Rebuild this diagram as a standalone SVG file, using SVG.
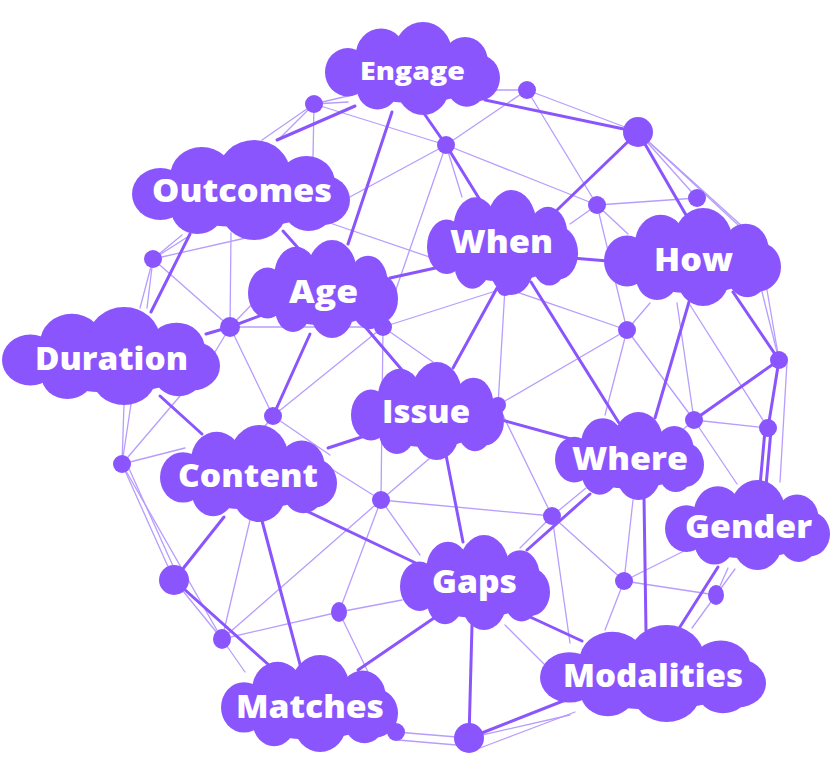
<svg xmlns="http://www.w3.org/2000/svg" xmlns:xlink="http://www.w3.org/1999/xlink" width="832" height="762" viewBox="0 0 832 762">
<style>
.c{fill:#8b55fe}
.t{stroke:#b79dfe;stroke-width:1.3;stroke-linecap:round}
.k{stroke:#8b55fe;stroke-width:3;stroke-linecap:round}
.lb{font-family:"Open Sans","Liberation Sans",sans-serif;font-weight:800;fill:#fff;font-size:32px}
</style>
<defs>
<symbol id="cloud" viewBox="0 0 200 100" preserveAspectRatio="none">
<g class="c">
<ellipse cx="100" cy="54" rx="86" ry="33"/>
<circle cx="26" cy="54" r="26"/>
<circle cx="64" cy="36" r="29"/>
<circle cx="112" cy="33" r="33"/>
<circle cx="160" cy="42" r="26"/>
<circle cx="175" cy="60" r="25"/>
<circle cx="60" cy="70" r="24"/>
<circle cx="112" cy="70" r="30"/>
<circle cx="162" cy="68" r="23"/>
</g>
</symbol>
</defs>
<rect width="832" height="762" fill="#fff"/>
<g id="connectors">
<g class="t">
<line x1="314" y1="104" x2="352" y2="95"/><line x1="314" y1="104" x2="348" y2="102"/>
<line x1="314" y1="104" x2="262" y2="140"/><line x1="314" y1="104" x2="278" y2="140"/>
<line x1="314" y1="104" x2="313" y2="157"/><line x1="314" y1="104" x2="446" y2="145"/>
<line x1="495" y1="90" x2="527" y2="90"/><line x1="527" y1="90" x2="446" y2="145"/>
<line x1="527" y1="90" x2="638" y2="132"/><line x1="527" y1="90" x2="597" y2="205"/>
<line x1="638" y1="132" x2="697" y2="198"/><line x1="638" y1="132" x2="743" y2="227"/>
<line x1="638" y1="132" x2="750" y2="236"/>
<line x1="597" y1="205" x2="697" y2="198"/><line x1="597" y1="205" x2="570" y2="224"/>
<line x1="597" y1="205" x2="628" y2="234"/><line x1="597" y1="205" x2="627" y2="330"/>
<line x1="446" y1="145" x2="597" y2="205"/><line x1="446" y1="145" x2="462" y2="197"/>
<line x1="446" y1="145" x2="348" y2="198"/><line x1="446" y1="145" x2="383" y2="327"/>
<line x1="327" y1="222" x2="447" y2="263"/>
<line x1="153" y1="259" x2="182" y2="235"/><line x1="153" y1="259" x2="189" y2="236"/>
<line x1="153" y1="259" x2="250" y2="237"/><line x1="153" y1="259" x2="140" y2="308"/>
<line x1="153" y1="259" x2="147" y2="308"/><line x1="153" y1="259" x2="230" y2="327"/>
<line x1="230" y1="327" x2="231" y2="233"/><line x1="230" y1="327" x2="383" y2="327"/>
<line x1="230" y1="327" x2="273" y2="416"/><line x1="230" y1="327" x2="212" y2="357"/>
<line x1="230" y1="327" x2="256" y2="300"/>
<line x1="383" y1="327" x2="273" y2="416"/><line x1="383" y1="327" x2="381" y2="500"/>
<line x1="383" y1="327" x2="505" y2="288"/><line x1="383" y1="327" x2="433" y2="362"/>
<line x1="505" y1="288" x2="498" y2="405"/><line x1="505" y1="288" x2="627" y2="330"/>
<line x1="498" y1="405" x2="627" y2="330"/><line x1="498" y1="405" x2="552" y2="516"/>
<line x1="627" y1="330" x2="605" y2="415"/><line x1="627" y1="330" x2="694" y2="420"/>
<line x1="627" y1="330" x2="650" y2="303"/>
<line x1="381" y1="500" x2="552" y2="516"/><line x1="381" y1="500" x2="330" y2="468"/>
<line x1="381" y1="500" x2="430" y2="458"/><line x1="381" y1="500" x2="420" y2="555"/>
<line x1="381" y1="500" x2="339" y2="612"/><line x1="381" y1="500" x2="222" y2="639"/>
<line x1="339" y1="612" x2="222" y2="639"/><line x1="339" y1="612" x2="402" y2="600"/>
<line x1="339" y1="612" x2="368" y2="672"/>
<line x1="222" y1="639" x2="250" y2="520"/><line x1="222" y1="639" x2="245" y2="672"/>
<line x1="174" y1="580" x2="222" y2="639"/>
<line x1="122" y1="464" x2="174" y2="580"/><line x1="126" y1="462" x2="178" y2="577"/>
<line x1="122" y1="464" x2="222" y2="639"/><line x1="122" y1="464" x2="185" y2="448"/>
<line x1="122" y1="464" x2="124" y2="404"/><line x1="122" y1="464" x2="131" y2="404"/>
<line x1="122" y1="464" x2="180" y2="396"/>
<line x1="273" y1="416" x2="262" y2="430"/><line x1="273" y1="416" x2="330" y2="455"/>
<line x1="552" y1="516" x2="520" y2="548"/><line x1="552" y1="516" x2="586" y2="488"/>
<line x1="552" y1="516" x2="624" y2="581"/><line x1="552" y1="516" x2="570" y2="643"/>
<line x1="624" y1="581" x2="633" y2="500"/><line x1="624" y1="581" x2="690" y2="548"/>
<line x1="624" y1="581" x2="716" y2="595"/><line x1="624" y1="581" x2="605" y2="630"/>
<line x1="716" y1="595" x2="728" y2="568"/><line x1="716" y1="595" x2="735" y2="569"/>
<line x1="716" y1="595" x2="692" y2="628"/>
<line x1="694" y1="420" x2="737" y2="484"/><line x1="694" y1="420" x2="768" y2="428"/>
<line x1="694" y1="420" x2="680" y2="432"/><line x1="694" y1="420" x2="677" y2="303"/>
<line x1="690" y1="305" x2="768" y2="428"/><line x1="767" y1="290" x2="779" y2="360"/>
<line x1="787" y1="362" x2="780" y2="482"/><line x1="748" y1="236" x2="779" y2="360"/>
<line x1="396" y1="732" x2="469" y2="738"/><line x1="398" y1="740" x2="468" y2="746"/>
<line x1="469" y1="738" x2="570" y2="715"/><line x1="480" y1="748" x2="575" y2="712"/>
<line x1="505" y1="625" x2="545" y2="665"/>
</g>
<g class="k">
<line x1="277" y1="140" x2="355" y2="106"/>
<line x1="392" y1="112" x2="348" y2="244"/>
<line x1="423" y1="112" x2="446" y2="145"/><line x1="446" y1="145" x2="480" y2="200"/>
<line x1="485" y1="100" x2="638" y2="132"/>
<line x1="638" y1="132" x2="555" y2="212"/>
<line x1="638" y1="132" x2="686" y2="215"/>
<line x1="572" y1="258" x2="608" y2="261"/>
<line x1="390" y1="278" x2="449" y2="265"/>
<line x1="190" y1="234" x2="151" y2="312"/>
<line x1="230" y1="327" x2="270" y2="312"/><line x1="206" y1="334" x2="230" y2="327"/>
<line x1="283" y1="231" x2="299" y2="249"/>
<line x1="361" y1="322" x2="402" y2="370"/>
<line x1="310" y1="334" x2="273" y2="416"/>
<line x1="497" y1="288" x2="453" y2="368"/>
<line x1="531" y1="282" x2="619" y2="423"/>
<line x1="689" y1="302" x2="655" y2="418"/>
<line x1="733" y1="292" x2="779" y2="360"/>
<line x1="779" y1="360" x2="694" y2="420"/>
<line x1="779" y1="360" x2="768" y2="428"/>
<line x1="765" y1="430" x2="760" y2="486"/><line x1="771" y1="430" x2="766" y2="486"/>
<line x1="498" y1="419" x2="578" y2="441"/>
<line x1="328" y1="448" x2="377" y2="432"/>
<line x1="160" y1="396" x2="202" y2="434"/>
<line x1="446" y1="455" x2="463" y2="542"/>
<line x1="298" y1="507" x2="422" y2="566"/>
<line x1="224" y1="517" x2="174" y2="580"/>
<line x1="261" y1="517" x2="301" y2="668"/>
<line x1="174" y1="580" x2="270" y2="666"/>
<line x1="590" y1="494" x2="527" y2="550"/>
<line x1="644" y1="497" x2="646" y2="631"/>
<line x1="528" y1="616" x2="582" y2="641"/>
<line x1="434" y1="618" x2="358" y2="670"/>
<line x1="472" y1="625" x2="469" y2="738"/>
<line x1="469" y1="738" x2="568" y2="699"/>
<line x1="718" y1="567" x2="678" y2="630"/>
</g>
</g>
<g id="junctions" class="c">
<circle id="j1" cx="314" cy="104" r="9"/>
<circle id="j2" cx="527" cy="90" r="9"/>
<circle id="j3" cx="446" cy="145" r="9"/>
<circle id="j4" cx="638" cy="132" r="15"/>
<circle id="j5" cx="597" cy="205" r="9"/>
<circle id="j6" cx="697" cy="198" r="9"/>
<circle id="j7" cx="153" cy="259" r="9"/>
<circle id="j8" cx="230" cy="327" r="10"/>
<circle id="j9" cx="383" cy="327" r="9"/>
<circle id="j10" cx="505" cy="288" r="8"/>
<circle id="j11" cx="627" cy="330" r="9"/>
<circle id="j12" cx="779" cy="360" r="9"/>
<circle id="j13" cx="273" cy="416" r="9"/>
<circle id="j14" cx="498" cy="405" r="8"/>
<circle id="j15" cx="694" cy="420" r="9"/>
<circle id="j16" cx="768" cy="428" r="9"/>
<circle id="j17" cx="122" cy="464" r="9"/>
<circle id="j18" cx="381" cy="500" r="9"/>
<circle id="j19" cx="552" cy="516" r="9"/>
<circle id="j20" cx="174" cy="580" r="15"/>
<circle id="j21" cx="624" cy="581" r="9"/>
<ellipse id="j22" cx="716" cy="595" rx="8" ry="10"/>
<ellipse id="j23" cx="339" cy="612" rx="8" ry="10"/>
<ellipse id="j24" cx="222" cy="639" rx="9" ry="10"/>
<circle id="j25" cx="469" cy="738" r="15"/>
<circle id="j26" cx="396" cy="732" r="9"/>
</g>
<g id="engage"><use xlink:href="#cloud" x="325" y="22" width="175" height="93"/><text class="lb" x="360" y="80" style="font-size:25px" textLength="105" lengthAdjust="spacingAndGlyphs">Engage</text></g>
<g id="outcomes"><use xlink:href="#cloud" x="132" y="140" width="218" height="100"/><text class="lb" x="152" y="202" textLength="180" lengthAdjust="spacingAndGlyphs">Outcomes</text></g>
<g id="age"><use xlink:href="#cloud" x="248" y="240" width="150" height="98"/><text class="lb" x="289" y="303" textLength="69" lengthAdjust="spacingAndGlyphs">Age</text></g>
<g id="when"><use xlink:href="#cloud" x="427" y="190" width="151" height="105"/><text class="lb" x="450" y="253" textLength="103" lengthAdjust="spacingAndGlyphs">When</text></g>
<g id="how"><use xlink:href="#cloud" x="604" y="208" width="177" height="98"/><text class="lb" x="654" y="271" textLength="79" lengthAdjust="spacingAndGlyphs">How</text></g>
<g id="duration"><use xlink:href="#cloud" x="2" y="307" width="218" height="98"/><text class="lb" x="35" y="370" textLength="153" lengthAdjust="spacingAndGlyphs">Duration</text></g>
<g id="issue"><use xlink:href="#cloud" x="351" y="362" width="153" height="98"/><text class="lb" x="382" y="423" textLength="88" lengthAdjust="spacingAndGlyphs">Issue</text></g>
<g id="where"><use xlink:href="#cloud" x="555" y="412" width="149" height="88"/><text class="lb" x="572" y="470" textLength="116" lengthAdjust="spacingAndGlyphs">Where</text></g>
<g id="content"><use xlink:href="#cloud" x="160" y="425" width="177" height="97"/><text class="lb" x="178" y="487" textLength="140" lengthAdjust="spacingAndGlyphs">Content</text></g>
<g id="gender"><use xlink:href="#cloud" x="665" y="480" width="165" height="90"/><text class="lb" x="685" y="538" textLength="127" lengthAdjust="spacingAndGlyphs">Gender</text></g>
<g id="gaps"><use xlink:href="#cloud" x="400" y="535" width="150" height="95"/><text class="lb" x="432" y="593" textLength="85" lengthAdjust="spacingAndGlyphs">Gaps</text></g>
<g id="modalities"><use xlink:href="#cloud" x="540" y="625" width="226" height="97"/><text class="lb" x="563" y="687" textLength="180" lengthAdjust="spacingAndGlyphs">Modalities</text></g>
<g id="matches"><use xlink:href="#cloud" x="221" y="655" width="177" height="97"/><text class="lb" x="236" y="718" textLength="148" lengthAdjust="spacingAndGlyphs">Matches</text></g>
</svg>
